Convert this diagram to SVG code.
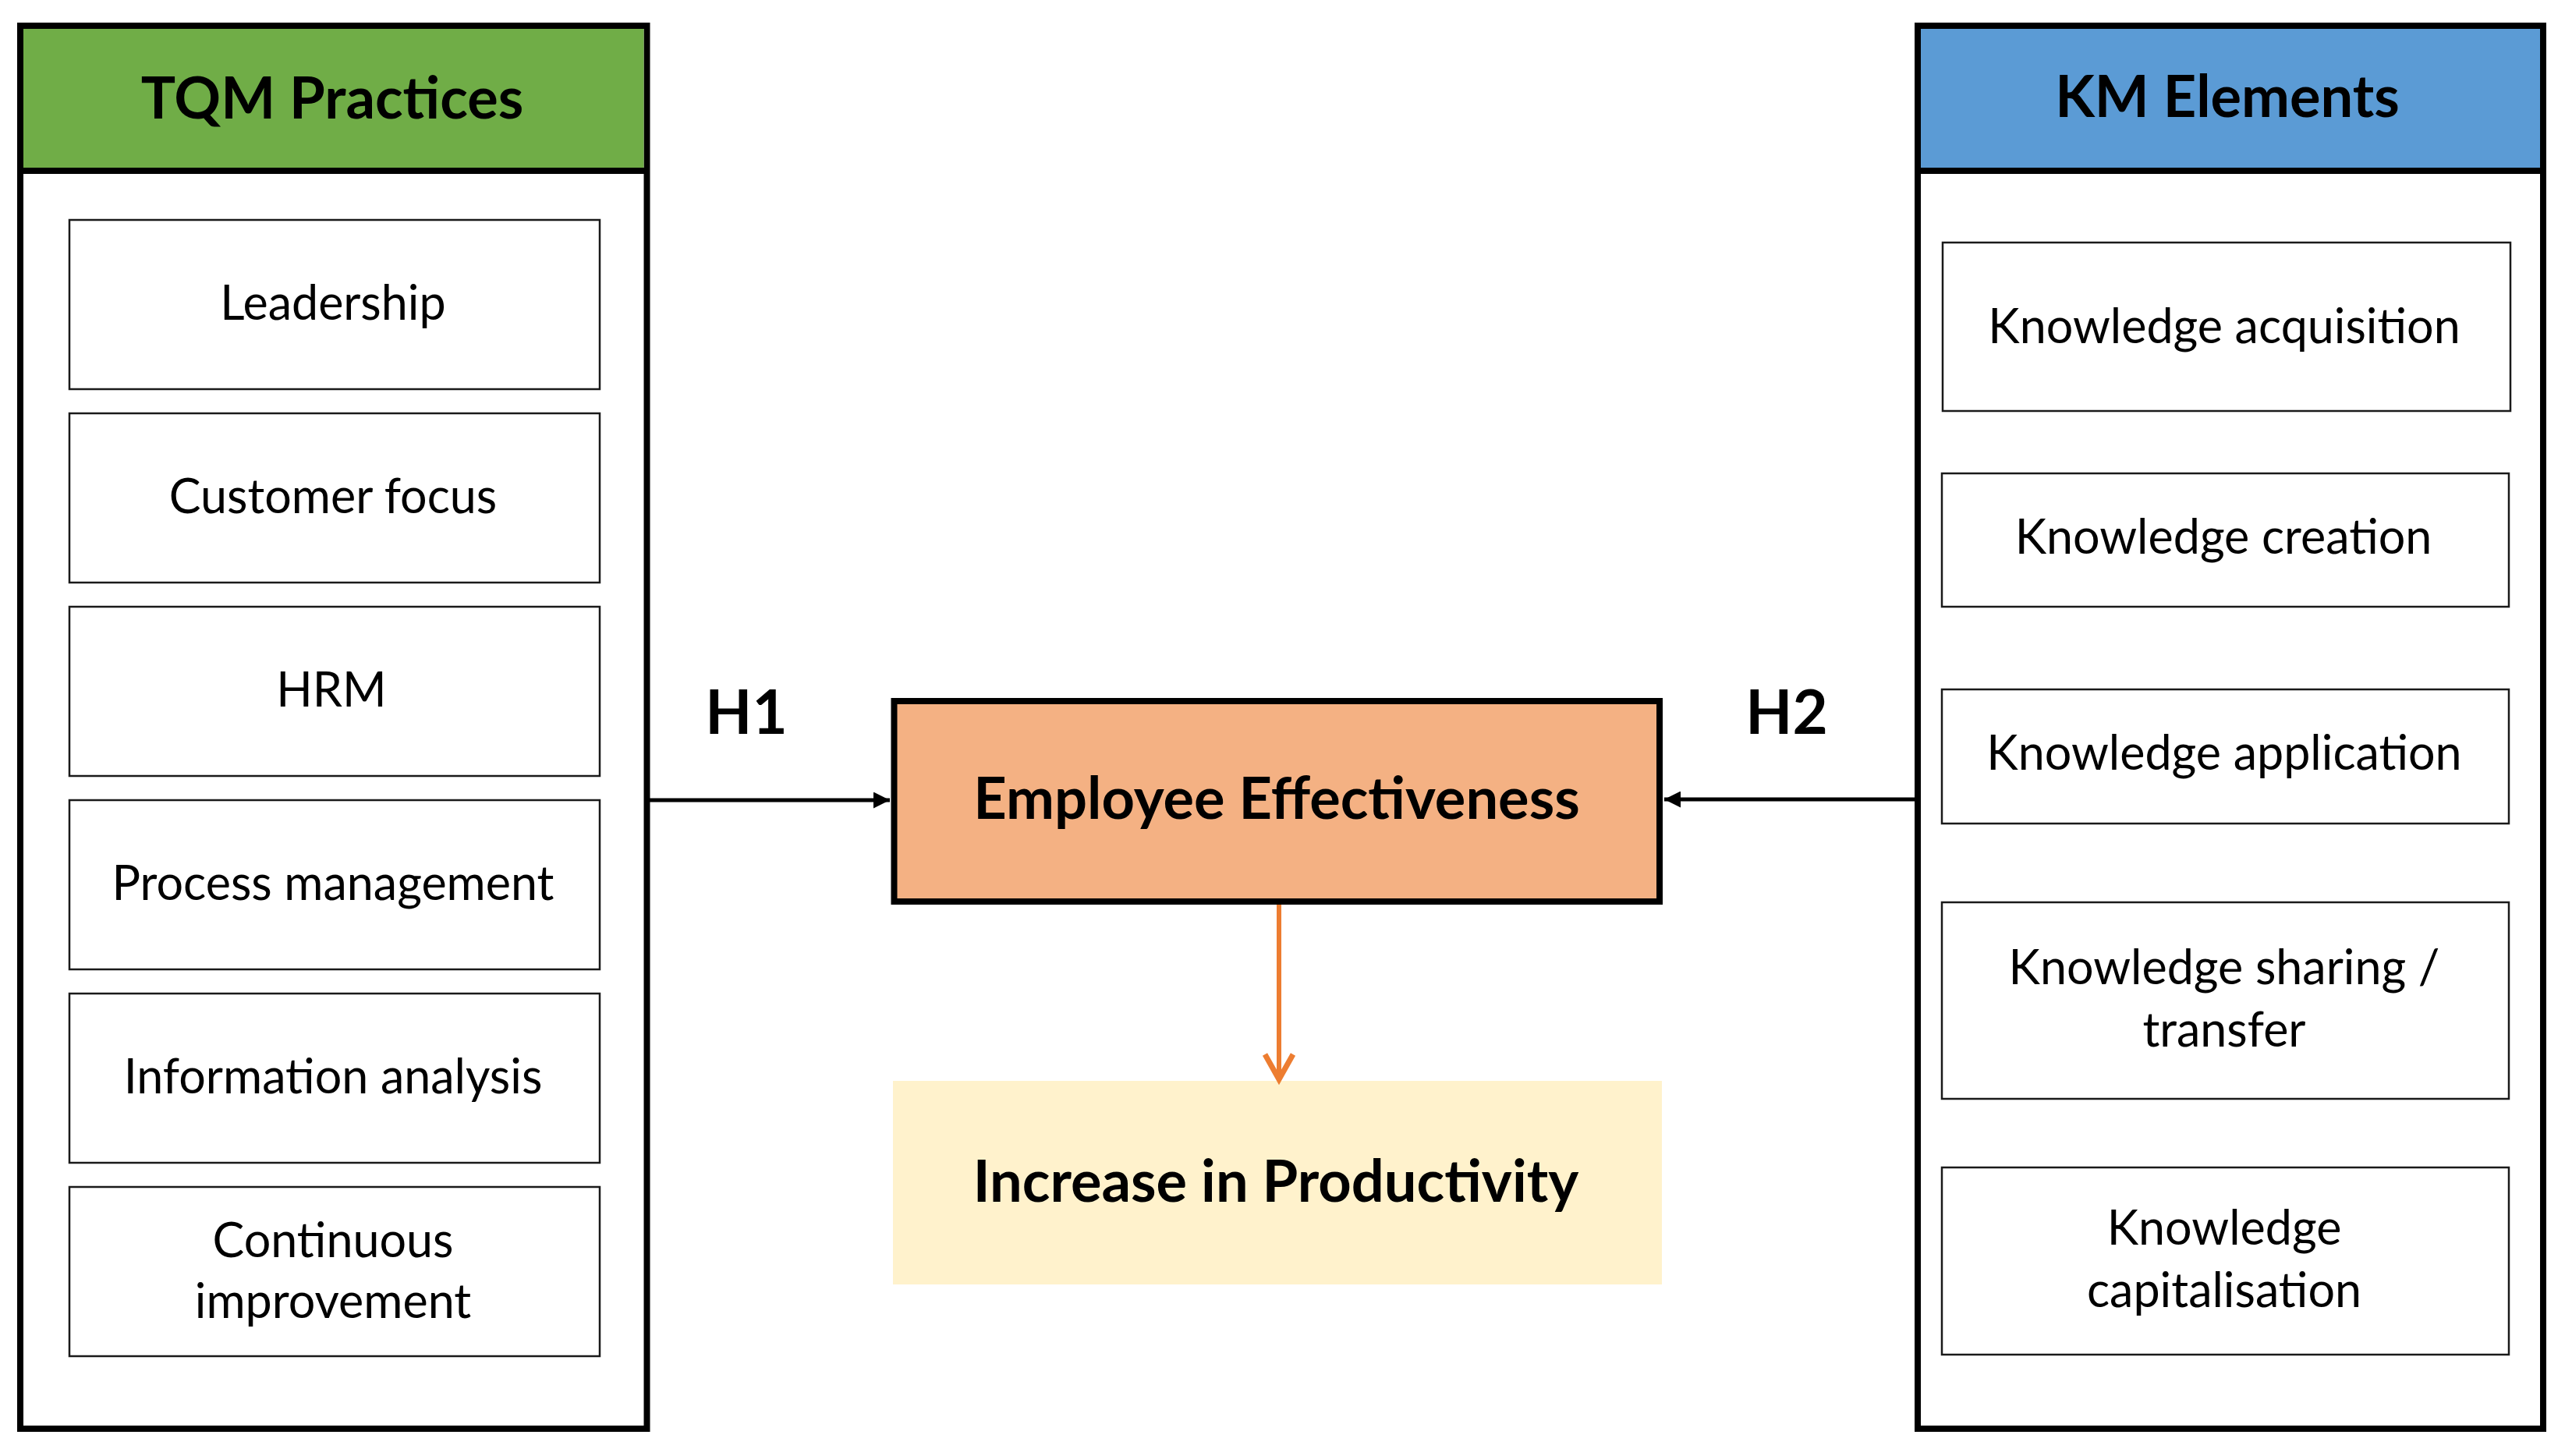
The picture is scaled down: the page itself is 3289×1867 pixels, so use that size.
<svg xmlns="http://www.w3.org/2000/svg" width="3289" height="1867" viewBox="0 0 3289 1867">
<defs>
<style>
text{font-family:Lato,"Open Sans","Liberation Sans",sans-serif;fill:#000;text-anchor:middle}
.hdr{font-size:74px;font-weight:700}
.item{font-size:61px}
.big{font-size:74px;font-weight:700}
.h{font-size:78px;font-weight:700}
.panel{fill:#fff;stroke:#000;stroke-width:8}
.box{fill:#fff;stroke:#1a1a1a;stroke-width:2.5}
.sep{stroke:#000;stroke-width:8}
</style>
<marker id="blk" viewBox="0 0 10 10" refX="10" refY="5" markerWidth="4.2" markerHeight="4.2" orient="auto" markerUnits="strokeWidth">
<path d="M0,0 L10,5 L0,10 z" fill="#000"/>
</marker>
</defs>
<rect width="3289" height="1867" fill="#fff"/>

<g id="tqm-panel">
<rect class="panel" x="26" y="33" width="803.5" height="1799"/>
<rect x="30" y="37" width="795.5" height="178" fill="#70AD47"/>
<line class="sep" x1="26" y1="219" x2="829.5" y2="219"/>
<text class="hdr" x="426" y="152">TQM Practices</text>
</g>
<g id="leadership"><rect class="box" x="89" y="282" width="680" height="217"/><text class="item" x="427" y="410">Leadership</text></g>
<g id="customer-focus"><rect class="box" x="89" y="530" width="680" height="217"/><text class="item" x="427" y="658">Customer focus</text></g>
<g id="hrm"><rect class="box" x="89" y="778" width="680" height="217"/><text class="item" x="425" y="906">HRM</text></g>
<g id="process-management"><rect class="box" x="89" y="1026" width="680" height="217"/><text class="item" x="427" y="1154">Process management</text></g>
<g id="information-analysis"><rect class="box" x="89" y="1274" width="680" height="217"/><text class="item" x="427" y="1402">Information analysis</text></g>
<g id="continuous-improvement"><rect class="box" x="89" y="1522" width="680" height="217"/><text class="item" x="427" y="1612">Continuous</text><text class="item" x="427" y="1690">improvement</text></g>

<g id="km-panel">
<rect class="panel" x="2459" y="33" width="802" height="1799"/>
<rect x="2463" y="37" width="794" height="178" fill="#5B9BD5"/>
<line class="sep" x1="2459" y1="219" x2="3261" y2="219"/>
<text class="hdr" x="2856" y="150">KM Elements</text>
</g>
<g id="knowledge-acquisition"><rect class="box" x="2491" y="311" width="728" height="216"/><text class="item" x="2852" y="440">Knowledge acquisition</text></g>
<g id="knowledge-creation"><rect class="box" x="2490" y="607" width="727" height="171"/><text class="item" x="2851" y="710">Knowledge creation</text></g>
<g id="knowledge-application"><rect class="box" x="2490" y="884" width="727" height="172"/><text class="item" x="2852" y="987">Knowledge application</text></g>
<g id="knowledge-sharing"><rect class="box" x="2490" y="1157" width="727" height="252"/><text class="item" x="2852" y="1262">Knowledge sharing /</text><text class="item" x="2852" y="1342">transfer</text></g>
<g id="knowledge-capitalisation"><rect class="box" x="2490" y="1497" width="727" height="240"/><text class="item" x="2852" y="1596">Knowledge</text><text class="item" x="2852" y="1676">capitalisation</text></g>

<g id="employee-effectiveness">
<rect x="1146.5" y="899" width="981.5" height="257" fill="#F4B183" stroke="#000" stroke-width="8"/>
<text class="big" x="1637" y="1050">Employee Effectiveness</text>
</g>
<g id="increase-in-productivity">
<rect x="1145" y="1386" width="986" height="261" fill="#FFF2CC"/>
<text class="big" x="1636" y="1541">Increase in Productivity</text>
</g>

<g id="labels">
<text class="h" x="957" y="941">H1</text>
<text class="h" x="2291" y="941">H2</text>
</g>

<g id="connectors">
<line x1="833" y1="1026" x2="1141" y2="1026" stroke="#000" stroke-width="5" marker-end="url(#blk)"/>
<line x1="2455" y1="1025" x2="2134" y2="1025" stroke="#000" stroke-width="5" marker-end="url(#blk)"/>
<line x1="1640" y1="1160" x2="1640" y2="1383" stroke="#ED7D31" stroke-width="6"/>
<polyline points="1622,1352 1640,1384 1658,1352" fill="none" stroke="#ED7D31" stroke-width="7" stroke-linejoin="miter"/>
</g>
</svg>
